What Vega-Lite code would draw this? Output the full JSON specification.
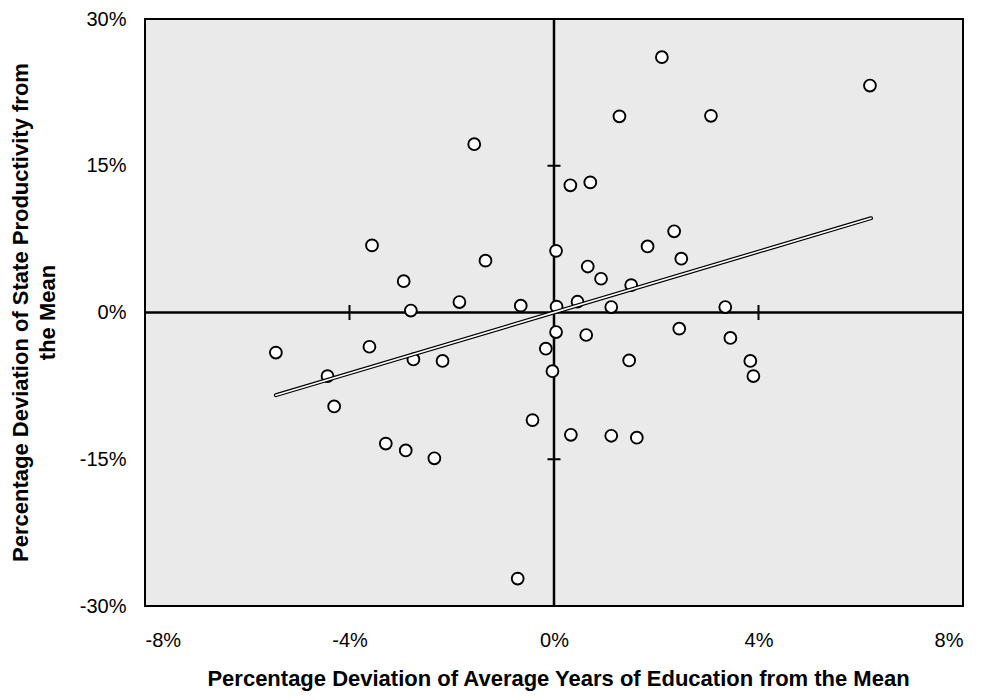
{
  "$schema": "https://vega.github.io/schema/vega-lite/v6.json",
  "width": 818,
  "height": 587,
  "autosize": {"type": "none"},
  "padding": {"left": 145, "top": 19, "right": 23, "bottom": 94},
  "background": "white",
  "config": {
    "view": {"fill": "#eaeaea", "stroke": "black", "strokeWidth": 2},
    "font": "Liberation Sans",
    "axis": {"grid": false, "domain": false, "ticks": false, "labelFont": "Liberation Sans", "labelFontSize": 20, "labelColor": "black", "titleFont": "Liberation Sans", "titleFontSize": 22, "titleFontWeight": "bold", "titleColor": "black"}
  },
  "datasets": {
    "states": [
      {"edu": -1.56, "prod": 17.2}, {"edu": -3.56, "prod": 6.86}, {"edu": -1.34, "prod": 5.3},
      {"edu": -2.94, "prod": 3.2}, {"edu": -1.85, "prod": 1.07}, {"edu": -2.8, "prod": 0.2},
      {"edu": -0.65, "prod": 0.7}, {"edu": 0.04, "prod": 6.3}, {"edu": 2.11, "prod": 26.1},
      {"edu": 6.18, "prod": 23.2}, {"edu": 1.28, "prod": 20.05}, {"edu": 3.07, "prod": 20.1},
      {"edu": 0.32, "prod": 13.0}, {"edu": 0.71, "prod": 13.3}, {"edu": 2.35, "prod": 8.3},
      {"edu": 1.83, "prod": 6.75}, {"edu": 2.49, "prod": 5.5}, {"edu": 0.66, "prod": 4.7},
      {"edu": 0.92, "prod": 3.45}, {"edu": 1.51, "prod": 2.8}, {"edu": 1.12, "prod": 0.56},
      {"edu": 3.35, "prod": 0.56}, {"edu": 0.05, "prod": 0.6}, {"edu": 0.46, "prod": 1.1},
      {"edu": 2.45, "prod": -1.65}, {"edu": 0.63, "prod": -2.3}, {"edu": 3.45, "prod": -2.6},
      {"edu": 0.04, "prod": -2.0}, {"edu": 1.47, "prod": -4.9}, {"edu": 3.84, "prod": -4.95},
      {"edu": 3.9, "prod": -6.5}, {"edu": -0.03, "prod": -6.0}, {"edu": 0.33, "prod": -12.5},
      {"edu": 1.12, "prod": -12.6}, {"edu": 1.62, "prod": -12.8}, {"edu": -5.44, "prod": -4.1},
      {"edu": -3.61, "prod": -3.5}, {"edu": -2.18, "prod": -4.95}, {"edu": -2.75, "prod": -4.8},
      {"edu": -4.43, "prod": -6.5}, {"edu": -4.3, "prod": -9.6}, {"edu": -0.16, "prod": -3.7},
      {"edu": -0.42, "prod": -11.0}, {"edu": -3.29, "prod": -13.4}, {"edu": -2.9, "prod": -14.1},
      {"edu": -2.34, "prod": -14.9}, {"edu": -0.71, "prod": -27.2}
    ],
    "fit": [
      {"edu": -5.44, "prod": -8.45},
      {"edu": 6.2, "prod": 9.64}
    ],
    "zero": [{"edu": 0, "prod": 0}],
    "xticks": [{"edu": -4, "prod": 0}, {"edu": 4, "prod": 0}],
    "yticks": [{"edu": 0, "prod": 15}, {"edu": 0, "prod": -15}]
  },
  "layer": [
    {
      "data": {"name": "states"},
      "mark": {"type": "point", "opacity": 0},
      "encoding": {
        "x": {"field": "edu", "type": "quantitative",
          "scale": {"domain": [-8, 8], "nice": false, "zero": false},
          "axis": {"values": [-8, -4, 0, 4, 8], "labelExpr": "datum.value + '%'", "labelPadding": 24,
            "title": "Percentage Deviation of Average Years of Education from the Mean",
            "titleBaseline": "middle", "titleY": 72, "titleX": 413}},
        "y": {"field": "prod", "type": "quantitative",
          "scale": {"domain": [-30, 30], "nice": false, "zero": false},
          "axis": {"values": [-30, -15, 0, 15, 30], "labelExpr": "datum.value + '%'", "labelPadding": 19,
            "title": ["Percentage Deviation of State Productivity from", "the Mean"],
            "titleAngle": -90, "titleAlign": "center", "titleBaseline": "top", "titleX": -135, "titleY": 293, "titleLineHeight": 27}}
      }
    },
    {
      "data": {"name": "zero"},
      "mark": {"type": "rule", "color": "black", "strokeWidth": 2.5},
      "encoding": {"x": {"field": "edu", "type": "quantitative"}}
    },
    {
      "data": {"name": "zero"},
      "mark": {"type": "rule", "color": "black", "strokeWidth": 2.5},
      "encoding": {"y": {"field": "prod", "type": "quantitative"}}
    },
    {
      "data": {"name": "xticks"},
      "mark": {"type": "tick", "orient": "vertical", "color": "black", "opacity": 1, "size": 15, "thickness": 2},
      "encoding": {"x": {"field": "edu", "type": "quantitative"}, "y": {"field": "prod", "type": "quantitative"}}
    },
    {
      "data": {"name": "yticks"},
      "mark": {"type": "tick", "orient": "horizontal", "color": "black", "opacity": 1, "size": 13, "thickness": 2},
      "encoding": {"x": {"field": "edu", "type": "quantitative"}, "y": {"field": "prod", "type": "quantitative"}}
    },
    {
      "data": {"name": "states"},
      "mark": {"type": "point", "shape": "circle", "filled": false, "fill": "white", "fillOpacity": 1, "stroke": "black", "strokeWidth": 1.9, "size": 140, "opacity": 1},
      "encoding": {"x": {"field": "edu", "type": "quantitative"}, "y": {"field": "prod", "type": "quantitative"}}
    },
    {
      "data": {"name": "fit"},
      "mark": {"type": "line", "color": "black", "strokeWidth": 4, "strokeCap": "round"},
      "encoding": {"x": {"field": "edu", "type": "quantitative"}, "y": {"field": "prod", "type": "quantitative"}}
    },
    {
      "data": {"name": "fit"},
      "mark": {"type": "line", "color": "white", "strokeWidth": 1.6, "strokeCap": "round"},
      "encoding": {"x": {"field": "edu", "type": "quantitative"}, "y": {"field": "prod", "type": "quantitative"}}
    }
  ]
}
